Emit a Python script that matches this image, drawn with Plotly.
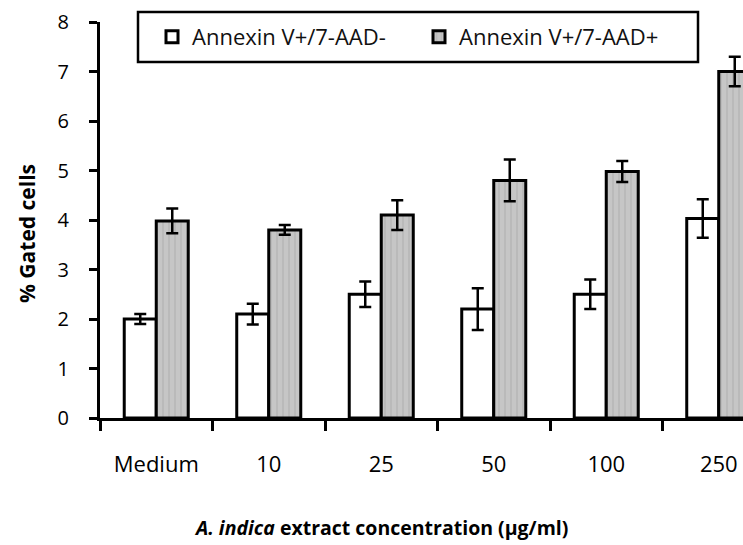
import plotly.graph_objects as go

categories = ["Medium", "10", "25", "50", "100", "250"]
neg_vals = [2.0, 2.1, 2.5, 2.2, 2.5, 4.03]
neg_err = [0.1, 0.21, 0.26, 0.42, 0.3, 0.39]
pos_vals = [3.98, 3.8, 4.1, 4.8, 4.98, 7.0]
pos_err = [0.25, 0.1, 0.3, 0.42, 0.21, 0.3]
y_ticks = [0, 1, 2, 3, 4, 5, 6, 7, 8]

FONT = "Open Sans"
PL, PT, PW, PH = 100, 22, 643, 396


def px_x(px):
    return (px - PL) / PW


def px_y(py):
    return (PT + PH - py) / PH


fig = go.Figure()
fig.add_trace(go.Bar(
    x=categories, y=neg_vals, name="Annexin V+/7-AAD-",
    marker=dict(color="white", line=dict(color="black", width=3)),
    error_y=dict(type="data", array=neg_err, color="black", thickness=2.5, width=6),
))
fig.add_trace(go.Bar(
    x=categories, y=pos_vals, name="Annexin V+/7-AAD+",
    marker=dict(color="#c2c2c2", line=dict(color="black", width=3),
                pattern=dict(shape="|", fgcolor="#adadad", bgcolor="#c6c6c6", size=6, solidity=0.35)),
    error_y=dict(type="data", array=pos_err, color="black", thickness=2.5, width=6),
))

fig.update_layout(
    width=743, height=545,
    margin=dict(l=PL, r=0, t=PT, b=545 - PT - PH),
    plot_bgcolor="white", paper_bgcolor="white",
    barmode="group", bargap=0.431, bargroupgap=0,
    font=dict(family=FONT, color="black", size=20),
    showlegend=True,
    legend=dict(orientation="h", x=px_x(152), xanchor="left", y=px_y(37), yanchor="middle",
                borderwidth=0, bgcolor="rgba(0,0,0,0)",
                font=dict(family=FONT, size=22, color="#111"),
                entrywidth=222, tracegroupgap=0),
)
# legend frame
fig.add_shape(type="rect", xref="paper", yref="paper",
              x0=px_x(138), x1=px_x(698), y0=px_y(62), y1=px_y(12),
              line=dict(color="black", width=2.5), fillcolor="rgba(0,0,0,0)", layer="above")
fig.update_xaxes(
    type="category", range=[-0.5, 5.5 - 32 / 112.5],
    showline=True, linecolor="black", linewidth=3,
    ticks="outside", tickson="boundaries", ticklen=10, tickwidth=3, tickcolor="black",
    ticklabelstandoff=25, tickfont=dict(size=22, family=FONT),
    showgrid=False, zeroline=False,
)
fig.update_yaxes(
    range=[0, 8], tickvals=y_ticks,
    showline=True, linecolor="black", linewidth=3,
    ticks="outside", ticklen=8, tickwidth=3, tickcolor="black",
    ticklabelstandoff=16, tickfont=dict(size=20, family=FONT),
    showgrid=False, zeroline=False,
)
fig.add_annotation(text="<b>% Gated cells</b>", xref="paper", yref="paper",
                   x=px_x(27), y=px_y(234), textangle=-90, showarrow=False,
                   font=dict(size=21, family=FONT), xanchor="center", yanchor="middle")
fig.add_annotation(text="<b><i>A. indica</i> extract concentration (μg/ml)</b>", xref="paper", yref="paper",
                   x=px_x(381), y=px_y(527), showarrow=False,
                   font=dict(size=19.5, family=FONT), xanchor="center", yanchor="middle")

fig.write_html("out.html", config={"displayModeBar": False})

with open("out.html", "r", encoding="utf-8") as f:
    html = f.read()
html = html.replace("<body>", '<body style="margin:0;padding:0;overflow:hidden">', 1)
with open("out.html", "w", encoding="utf-8") as f:
    f.write(html)
